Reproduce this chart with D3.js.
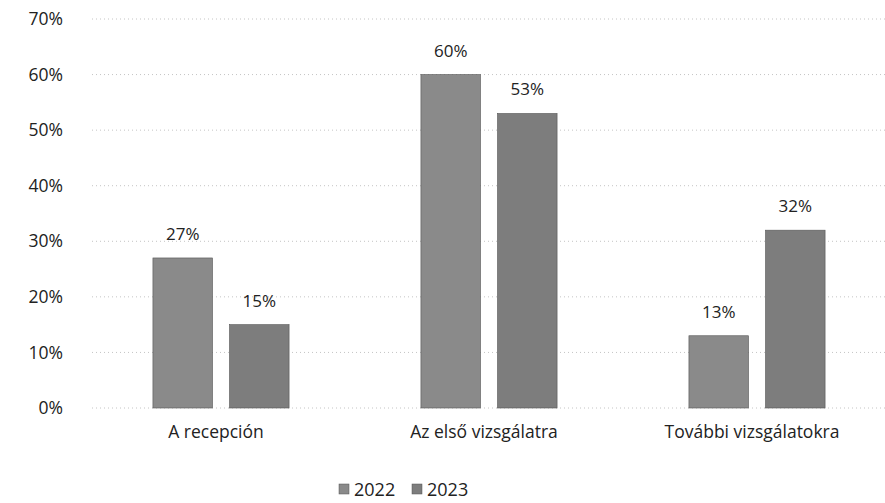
<!DOCTYPE html>
<html>
<head>
<meta charset="utf-8">
<script src="https://cdn.jsdelivr.net/npm/d3@7"></script>
<style>
body { margin: 0; background: #fff; }
text { font-family: "Open Sans", sans-serif; fill: #222; }
</style>
</head>
<body>
<script>
var w = 885;
var h = 503;

var categories = ["A recepción", "Az első vizsgálatra", "További vizsgálatokra"];
var years = ["2022", "2023"];
var values2022 = [27, 60, 13];
var values2023 = [15, 53, 32];
var yTicks = [0, 10, 20, 30, 40, 50, 60, 70];
var colors = {"2022": "#8a8a8a", "2023": "#7d7d7d"};

var svg = d3.select("body").append("svg").attr("width", w).attr("height", h);

var y = d3.scaleLinear().domain([0, 70]).range([408, 19]);

var x0 = d3.scaleBand().domain(categories).range([87, 891]).paddingInner(0.492).paddingOuter(0.246);
var x1 = d3.scaleBand().domain(years).range([0, x0.bandwidth()]).paddingInner(0.222);

// gridlines
svg.selectAll("line.grid")
.data(yTicks)
.enter()
.append("line")
.attr("class", "grid")
.attr("x1", 92)
.attr("x2", 885)
.attr("y1", function(d){return y(d);})
.attr("y2", function(d){return y(d);})
.attr("stroke", "#c4c4c4")
.attr("stroke-width", 1)
.attr("stroke-dasharray", "1,3");

// y axis labels
var yAxis = d3.axisLeft(y).tickValues(yTicks).tickSize(0).tickPadding(0)
.tickFormat(function(d){return d + "%";});
var ya = svg.append("g").attr("transform", "translate(63,0)").call(yAxis);
ya.select(".domain").remove();
ya.selectAll("text").style("font-size", "17.5px").style("font-family", "Open Sans, sans-serif").attr("fill", "#222");

var rows = categories.map(function(c, i){
    return {cat: c, vals: [{year: "2022", v: values2022[i]}, {year: "2023", v: values2023[i]}]};
});

var groups = svg.selectAll("g.grp")
.data(rows)
.enter()
.append("g")
.attr("class", "grp")
.attr("transform", function(d){return "translate(" + x0(d.cat) + ",0)";});

groups.selectAll("rect")
.data(function(d){return d.vals;})
.enter()
.append("rect")
.attr("x", function(d){return x1(d.year);})
.attr("y", function(d){return y(d.v);})
.attr("width", x1.bandwidth())
.attr("height", function(d){return y(0) - y(d.v);})
.attr("fill", function(d){return colors[d.year];})
.attr("stroke", "#555")
.attr("stroke-width", 0.6);

groups.selectAll("text.val")
.data(function(d){return d.vals;})
.enter()
.append("text")
.attr("class", "val")
.attr("x", function(d){return x1(d.year) + x1.bandwidth() / 2;})
.attr("y", function(d){return y(d.v) - 18;})
.attr("text-anchor", "middle")
.style("font-size", "17px")
.text(function(d){return d.v + "%";});

// category labels
var xAxis = d3.axisBottom(x0).tickSize(0).tickPadding(0);
var xa = svg.append("g").attr("transform", "translate(-5,426)").call(xAxis);
xa.select(".domain").remove();
xa.selectAll("text").style("font-size", "17.5px").style("font-family", "Open Sans, sans-serif").attr("fill", "#222");

// legend
var legend = svg.selectAll("g.leg")
.data(years)
.enter()
.append("g")
.attr("class", "leg")
.attr("transform", function(d, i){return "translate(" + (339 + i * 73) + ",484)";});

legend.append("rect")
.attr("width", 10)
.attr("height", 10)
.attr("fill", function(d){return colors[d];})
.attr("stroke", "#555")
.attr("stroke-width", 0.5);

legend.append("text")
.attr("x", 15)
.attr("y", 12)
.style("font-size", "18px")
.text(function(d){return d;});
</script>
</body>
</html>
